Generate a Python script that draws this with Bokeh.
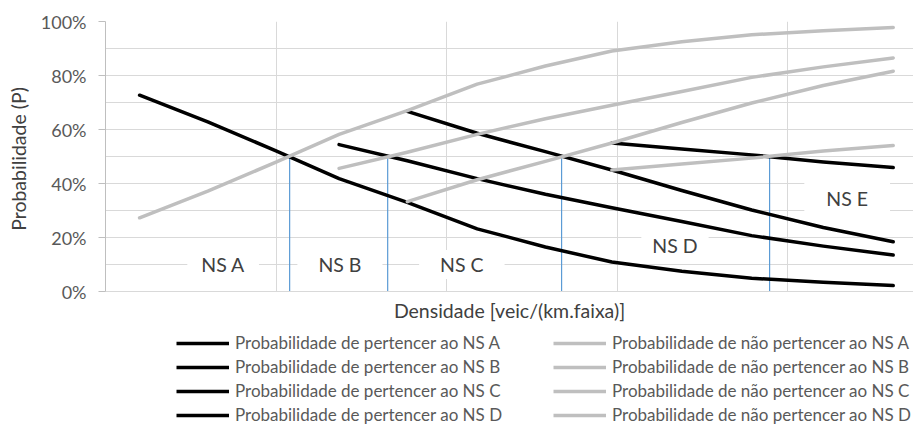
from bokeh.plotting import figure
from bokeh.layouts import column
from bokeh.models import (Range1d, FixedTicker, PrintfTickFormatter, CustomJSTickFormatter,
                          Legend, LegendItem, Label)
from bokeh.embed import file_html
from bokeh.resources import INLINE

# ---------------- data ----------------
densidade = [2, 6, 10, 13.7, 17.7, 21.8, 25.8, 29.7, 33.8, 37.9, 42.1, 46.2]

# probability of belonging to each level of service (%)
pert_ns_a = [72.7, 62.8, 52.1, 41.8, 33.0, 23.2, 16.5, 10.9, 7.5, 4.9, 3.4, 2.2]
pert_ns_b = [54.4, 48.4, 41.8, 36.0, 31.0, 25.9, 20.7, 16.8, 13.5]
pert_ns_c = [66.7, 58.6, 51.8, 45.0, 37.4, 30.2, 23.7, 18.4]
pert_ns_d = [55.0, 52.8, 50.6, 48.0, 45.9]

# probability of not belonging (%)
nao_pert_ns_a = [27.3, 37.2, 47.9, 58.2, 67.0, 76.8, 83.5, 89.1, 92.5, 95.1, 96.6, 97.8]
nao_pert_ns_b = [45.6, 51.6, 58.2, 64.0, 69.0, 74.1, 79.3, 83.2, 86.5]
nao_pert_ns_c = [33.3, 41.4, 48.2, 55.0, 62.6, 69.8, 76.3, 81.6]
nao_pert_ns_d = [45.0, 47.2, 49.4, 52.0, 54.1]

series_nomes = ["NS A", "NS B", "NS C", "NS D"]

# density thresholds between levels of service (blue markers) and the 50% level
limites_ns = [10.8, 16.55, 26.75, 38.95]
prob_limite = 50

# level-of-service annotations
ns_textos = ["NS A", "NS B", "NS C", "NS D", "NS E"]
ns_x = [6.9, 13.75, 20.9, 33.4, 43.5]
ns_y = [10, 10, 10, 17, 34.4]
ns_pad_h = [14, 21, 21, 11, 22]
ns_pad_v = [3, 3, 3, 3, 5]

y_ticks = [0, 20, 40, 60, 80, 100]
y_grid = [0, 10, 20, 30, 40, 50, 60, 70, 80, 90, 100]
x_grid = [0, 10, 20, 30, 40]

# ---------------- styles ----------------
FONT = "Lato"
PRETO = "#000000"
CINZA = "#BFBFBF"
AZUL = "#5B9BD5"
GRADE = "#D9D9D9"
LW = 3.5

p = figure(width=913, height=326, output_backend="svg", toolbar_location=None,
           x_range=Range1d(0, 47.39), y_range=Range1d(0, 100),
           min_border_left=105, min_border_right=0, min_border_top=21, min_border_bottom=35)
p.outline_line_color = None
p.background_fill_color = "white"
p.border_fill_color = "white"

# y axis
p.yaxis.ticker = FixedTicker(ticks=y_ticks)
p.yaxis.formatter = PrintfTickFormatter(format="%d%%")
p.yaxis.major_tick_out = 7
p.yaxis.major_tick_in = 0
p.yaxis.minor_tick_line_color = None
p.yaxis.axis_line_color = CINZA
p.yaxis.major_tick_line_color = CINZA
p.yaxis.major_label_text_font = FONT
p.yaxis.major_label_text_font_size = "18px"
p.yaxis.major_label_text_color = "#595959"
p.yaxis.major_label_standoff = 12
p.yaxis.axis_label = "Probabilidade  (P)"
p.yaxis.axis_label_text_font = FONT
p.yaxis.axis_label_text_font_style = "normal"
p.yaxis.axis_label_text_font_size = "19.5px"
p.yaxis.axis_label_text_color = "#404040"
p.yaxis.axis_label_standoff = 8

# x axis (no tick labels)
p.xaxis.ticker = FixedTicker(ticks=x_grid)
p.xaxis.formatter = CustomJSTickFormatter(code="return ''")
p.xaxis.major_tick_line_color = None
p.xaxis.minor_tick_line_color = None
p.xaxis.major_tick_out = 0
p.xaxis.major_label_standoff = 0
p.xaxis.axis_line_color = GRADE
p.xaxis.axis_label = "Densidade [veic/(km.faixa)]"
p.xaxis.axis_label_text_font = FONT
p.xaxis.axis_label_text_font_style = "normal"
p.xaxis.axis_label_text_font_size = "19.5px"
p.xaxis.axis_label_text_color = "#404040"
p.xaxis.axis_label_standoff = 7

# grids
p.ygrid.ticker = FixedTicker(ticks=y_grid)
p.xgrid.ticker = FixedTicker(ticks=x_grid)
p.ygrid.grid_line_color = GRADE
p.xgrid.grid_line_color = GRADE

# threshold markers
p.segment(x0=limites_ns, y0=[0] * len(limites_ns), x1=limites_ns,
          y1=[prob_limite] * len(limites_ns), line_color=AZUL, line_width=1.2)

pert = [pert_ns_a, pert_ns_b, pert_ns_c, pert_ns_d]
nao_pert = [nao_pert_ns_a, nao_pert_ns_b, nao_pert_ns_c, nao_pert_ns_d]

for ys in pert:
    p.line(densidade[-len(ys):], ys, line_color=PRETO, line_width=LW,
           line_join="round", line_cap="round")
for ys in nao_pert:
    p.line(densidade[-len(ys):], ys, line_color=CINZA, line_width=LW,
           line_join="round", line_cap="round")

# level-of-service labels
for t, x, y, ph, pv in zip(ns_textos, ns_x, ns_y, ns_pad_h, ns_pad_v):
    p.add_layout(Label(x=x, y=y, text=t, text_align="center", text_baseline="middle",
                       text_font=FONT, text_font_size="19.5px", text_color="#404040",
                       background_fill_color="white",
                       padding=dict(left=ph, right=ph, top=pv, bottom=pv)))

# ---------------- legend (separate strip below the chart) ----------------
# its frame is aligned with the chart's frame (left edge at 105 px)
leg = figure(width=913, height=99, output_backend="svg", toolbar_location=None,
             x_range=Range1d(0, 1), y_range=Range1d(0, 1),
             x_axis_location=None, y_axis_location=None,
             min_border_left=105, min_border_right=0, min_border_top=0, min_border_bottom=0)
leg.outline_line_color = None
leg.xgrid.visible = False
leg.ygrid.visible = False

nan = float("nan")
itens_pert = []
for nome in series_nomes:
    r = leg.line([nan], [nan], line_color=PRETO, line_width=LW)
    itens_pert.append(LegendItem(label="Probabilidade de pertencer ao " + nome, renderers=[r]))
itens_nao = []
for nome in series_nomes:
    r = leg.line([nan], [nan], line_color=CINZA, line_width=LW)
    itens_nao.append(LegendItem(label="Probabilidade de não pertencer ao " + nome, renderers=[r]))

def make_legend(items, loc):
    return Legend(items=items, location=loc, orientation="vertical",
                  glyph_width=53, glyph_height=20, label_height=20, label_standoff=6,
                  spacing=3, padding=0, margin=0, border_line_color=None,
                  background_fill_alpha=0, label_text_font=FONT,
                  label_text_font_size="17px", label_text_color="#595959")

leg.add_layout(make_legend(itens_pert, (71, 0)))
leg.add_layout(make_legend(itens_nao, (448, 0)))

layout = column(p, leg, spacing=0)
open("out.html", "w").write(file_html(layout, INLINE))
